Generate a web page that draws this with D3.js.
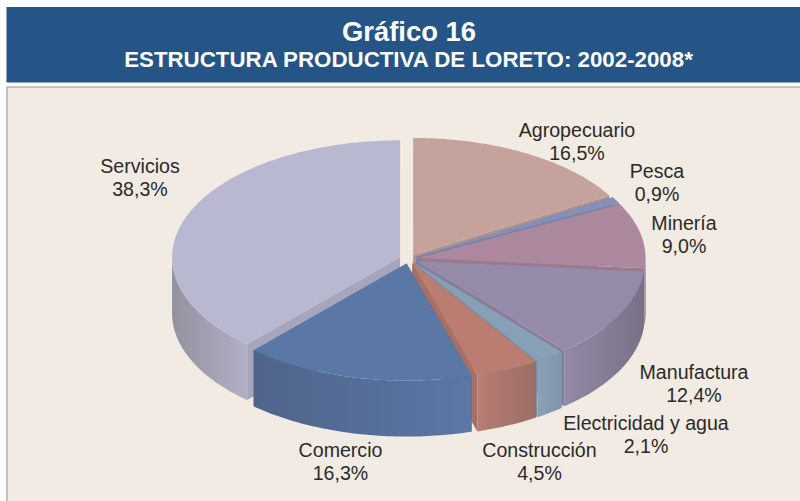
<!DOCTYPE html>
<html><head><meta charset="utf-8">
<script src="https://cdnjs.cloudflare.com/ajax/libs/d3/7.8.5/d3.min.js"></script>
<style>html,body{margin:0;padding:0;background:#fff}svg{display:block}text{font-family:"Liberation Sans",Arial,sans-serif}</style>
</head><body><svg id="c" width="800" height="501"></svg>
<script>
const categories=["Agropecuario","Pesca","Minería","Manufactura","Electricidad y agua","Construcción","Comercio","Servicios"];
const shares=[16.5,0.9,9.0,12.4,2.1,4.5,16.3,38.3];
const shareLabels=["16,5%","0,9%","9,0%","12,4%","2,1%","4,5%","16,3%","38,3%"];
const topColors=["#c5a39c","#8490b8","#ac889f","#958ba9","#87a0b5","#bb7c72","#5a77a6","#b8b8d0"];
const sideLeft=["#a98a84","#6f7a9c","#93758a","#918aa6","#8aa2b6","#b87c72","#50648a","#94919f"];
const sideRight=["#a98a84","#6f7a9c","#7c6c80","#7a7086","#7f96a9","#9c6d67","#5a77a6","#b2b0c6"];
const labelAnchors=[[577,137],[657,178],[684,230],[694,379],[646,430],[539.5,457],[340.5,457],[140,173]];

const svg=d3.select("#c");
const defs=svg.append("defs");
const W=800,H=501;
svg.append("rect").attr("x",6.5).attr("y",7).attr("width",W).attr("height",75.5).attr("fill","#255487");
svg.append("rect").attr("x",7).attr("y",87).attr("width",W).attr("height",H).attr("fill","#f1ebe4").attr("stroke","#b3b3b3").attr("stroke-width",1.5);
svg.append("text").attr("x",409).attr("y",41).attr("text-anchor","middle").attr("fill","#fff").attr("font-weight","bold").attr("font-size",27.4).text("Gráfico 16");
svg.append("text").attr("x",408.5).attr("y",67).attr("text-anchor","middle").attr("fill","#fff").attr("font-weight","bold").attr("font-size",22.3).text("ESTRUCTURA PRODUCTIVA DE LORETO: 2002-2008*");

const cx=408.6,cy=259,rx=228,ry=117,depth=56,explode=0.04;
const sx=d3.scaleLinear().domain([-1,1]).range([cx-rx,cx+rx]);
const sy=d3.scaleLinear().domain([-1,1]).range([cy-ry,cy+ry]);
const pie=d3.pie().sort(null).value(d=>d.v)(shares.map((v,i)=>({v,i})));
const line=d3.line();
const arcPts=(a0,a1)=>{const n=Math.max(2,Math.ceil((a1-a0)/0.02));return d3.range(n+1).map(k=>a0+(a1-a0)*k/n);};

const slices=pie.map(p=>{
  const mid=(p.startAngle+p.endAngle)/2;
  const ox=explode*Math.sin(mid),oy=-explode*Math.cos(mid);
  const pt=(a,r=1,z=0)=>[sx(ox+r*Math.sin(a)),sy(oy-r*Math.cos(a))+z];
  return {...p,mid,pt,i:p.data.i};
});

slices.forEach(s=>{
  const g=defs.append("linearGradient").attr("id","g"+s.i).attr("gradientUnits","objectBoundingBox").attr("x1",0).attr("x2",1).attr("y1",0).attr("y2",0);
  g.append("stop").attr("offset",0).attr("stop-color",sideLeft[s.i]);
  g.append("stop").attr("offset",1).attr("stop-color",sideRight[s.i]);
});

const order=slices.slice().sort((a,b)=>d3.ascending(-Math.cos(a.mid),-Math.cos(b.mid)));
order.forEach(s=>{
  const g=svg.append("g");
  const a0=s.startAngle,a1=s.endAngle;
  const wall=a=>line([s.pt(a,0),s.pt(a),s.pt(a,1,depth),s.pt(a,0,depth)])+"Z";
  const wallColor=d3.color(topColors[s.i]).darker(0.3).formatHex();
  g.append("path").attr("d",wall(a0)).attr("fill",wallColor);
  g.append("path").attr("d",wall(a1)).attr("fill",wallColor);
  const lo=Math.max(a0,Math.PI/2),hi=Math.min(a1,Math.PI*1.5);
  if(hi>lo){
    const as=arcPts(lo,hi);
    const pts=as.map(a=>s.pt(a)).concat(as.slice().reverse().map(a=>s.pt(a,1,depth)));
    g.append("path").attr("d",line(pts)+"Z").attr("fill",`url(#g${s.i})`);
  }
  const top=[s.pt(0,0)].concat(arcPts(a0,a1).map(a=>s.pt(a)));
  g.append("path").attr("d",line(top)+"Z").attr("fill",topColors[s.i]);
});

categories.forEach((c,i)=>{
  const [x,y]=labelAnchors[i];
  const t=svg.append("text").attr("text-anchor","middle").attr("fill","#2b2a29").attr("font-size",19.6);
  t.append("tspan").attr("x",x).attr("y",y).text(c);
  t.append("tspan").attr("x",x).attr("y",y+22.5).text(shareLabels[i]);
});
</script></body></html>
